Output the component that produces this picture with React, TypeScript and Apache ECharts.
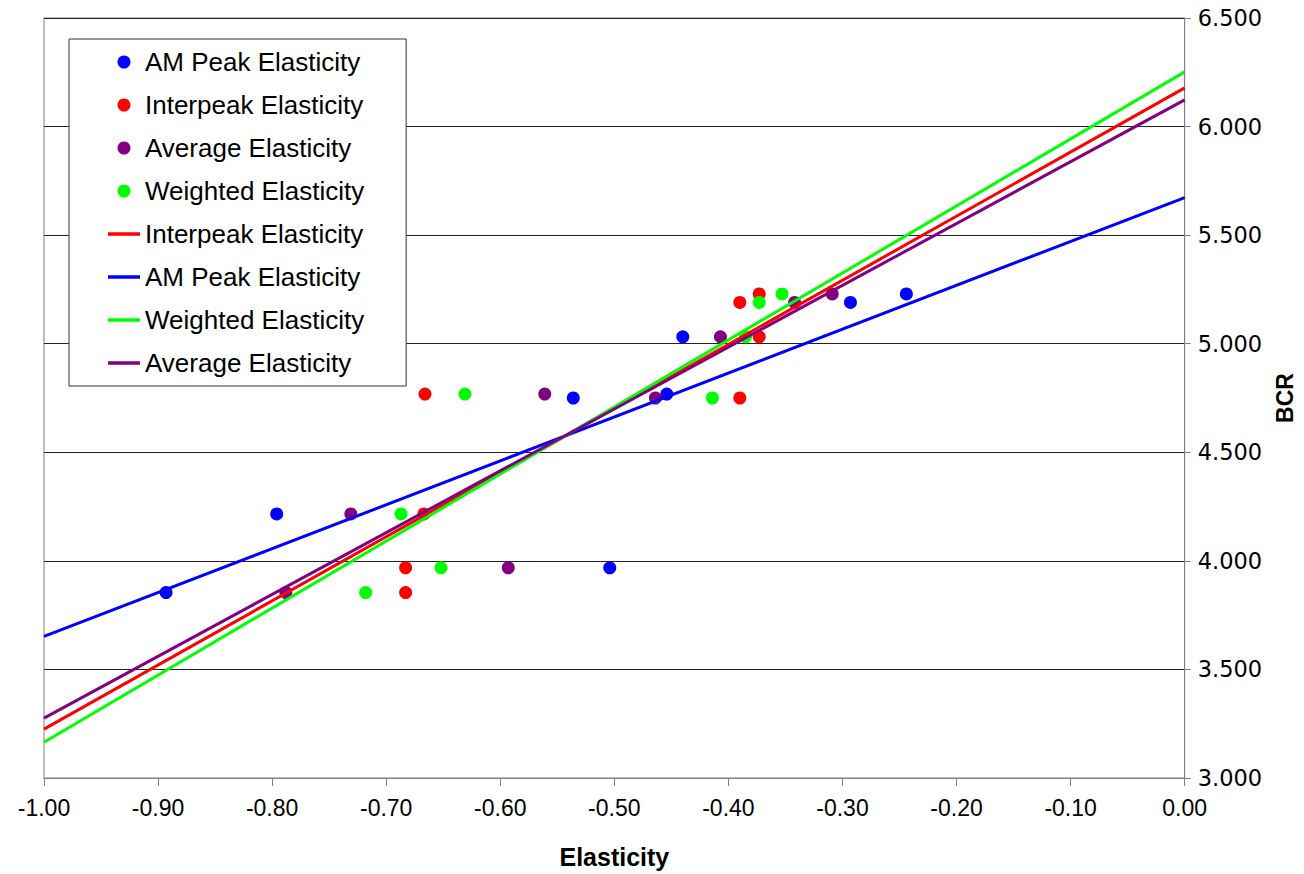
import React, { useEffect, useRef } from "react";
import * as echarts from "echarts";

const bcr = [3.854, 3.968, 4.216, 4.75, 4.768, 5.032, 5.19, 5.229];
const amPeak = [-0.893, -0.504, -0.796, -0.536, -0.454, -0.44, -0.293, -0.244];
const interpeak = [-0.683, -0.683, -0.667, -0.39, -0.666, -0.373, -0.39, -0.373];
const average = [-0.788, -0.593, -0.731, -0.464, -0.561, -0.407, -0.342, -0.309];
const weighted = [-0.718, -0.652, -0.687, -0.414, -0.631, -0.385, -0.373, -0.353];

const trendX = [-1, 0];
const trendAmPeak = [3.652, 5.673];
const trendInterpeak = [3.225, 6.178];
const trendWeighted = [3.165, 6.252];
const trendAverage = [3.276, 6.123];

const BLUE = "#0000FF";
const RED = "#FF0000";
const PURPLE = "#800080";
const GREEN = "#00FF00";

const LINE_ICON = "path://M0,0 L32,0 L32,3.5 L0,3.5 Z";

const pts = (xs: number[]) => xs.map((x, i) => [x, bcr[i]]);
const trend = (ys: number[]) => trendX.map((x, i) => [x, ys[i]]);

export default function App() {
  const ref = useRef<HTMLDivElement>(null);
  useEffect(() => {
    if (!ref.current) return;
    const chart = echarts.init(ref.current, null, { renderer: "svg" });
    const scatter = (name: string, xs: number[], color: string) => ({
      name,
      type: "scatter",
      data: pts(xs),
      symbol: "circle",
      symbolSize: 13,
      itemStyle: { color, opacity: 1 },
      z: 2,
    });
    const line = (name: string, ys: number[], color: string) => ({
      name: name + " ",
      type: "line",
      data: trend(ys),
      symbol: "none",
      showSymbol: false,
      lineStyle: { color, width: 3 },
      itemStyle: { color },
      z: 3,
    });
    chart.setOption({
      animation: false,
      backgroundColor: "#ffffff",
      grid: {
        left: 44,
        right: 119,
        top: 18,
        bottom: 94,
        show: true,
        borderColor: "#808080",
        borderWidth: 1,
      },
      legend: {
        orient: "vertical",
        left: 69,
        top: 39,
        padding: [10, 42, 10, 39],
        itemWidth: 32,
        itemHeight: 13,
        itemGap: 17,
        backgroundColor: "#ffffff",
        borderColor: "#333333",
        borderWidth: 1,
        borderRadius: 0,
        formatter: (n: string) => n.trim(),
        textStyle: {
          fontFamily: "Liberation Sans",
          fontSize: 26,
          lineHeight: 25,
          color: "#000",
        },
        data: [
          { name: "AM Peak Elasticity", icon: "circle" },
          { name: "Interpeak Elasticity", icon: "circle" },
          { name: "Average Elasticity", icon: "circle" },
          { name: "Weighted Elasticity", icon: "circle" },
          { name: "Interpeak Elasticity ", icon: LINE_ICON },
          { name: "AM Peak Elasticity ", icon: LINE_ICON },
          { name: "Weighted Elasticity ", icon: LINE_ICON },
          { name: "Average Elasticity ", icon: LINE_ICON },
        ],
      },
      xAxis: {
        type: "value",
        min: -1,
        max: 0,
        interval: 0.1,
        name: "Elasticity",
        nameLocation: "middle",
        nameGap: 66,
        nameTextStyle: {
          fontFamily: "Liberation Sans",
          fontWeight: "bold",
          fontSize: 25,
          color: "#000",
        },
        axisLine: { show: true, lineStyle: { color: "#808080", width: 1 } },
        axisTick: { show: true, length: 8, lineStyle: { color: "#808080" } },
        axisLabel: {
          margin: 18,
          fontFamily: "Liberation Sans",
          fontSize: 23,
          color: "#000",
          formatter: (v: number) => v.toFixed(2),
        },
        splitLine: { show: false },
      },
      yAxis: {
        type: "value",
        position: "right",
        min: 3,
        max: 6.5,
        interval: 0.5,
        name: "BCR",
        nameLocation: "middle",
        nameRotate: 90,
        nameGap: 82,
        nameTextStyle: {
          fontFamily: "Liberation Sans",
          fontWeight: "bold",
          fontSize: 23,
          color: "#000",
          padding: [0, 0, 8, 0],
        },
        axisLine: { show: true, lineStyle: { color: "#808080", width: 1 } },
        axisTick: { show: true, length: 6, lineStyle: { color: "#808080" } },
        axisLabel: {
          margin: 13,
          fontFamily: "DejaVu Sans",
          fontSize: 22.5,
          color: "#000",
          formatter: (v: number) => v.toFixed(3),
        },
        splitLine: { show: true, lineStyle: { color: "#222222", width: 1 } },
      },
      series: [
        scatter("AM Peak Elasticity", amPeak, BLUE),
        scatter("Interpeak Elasticity", interpeak, RED),
        scatter("Average Elasticity", average, PURPLE),
        scatter("Weighted Elasticity", weighted, GREEN),
        line("Interpeak Elasticity", trendInterpeak, RED),
        line("AM Peak Elasticity", trendAmPeak, BLUE),
        line("Weighted Elasticity", trendWeighted, GREEN),
        line("Average Elasticity", trendAverage, PURPLE),
      ],
    });
    return () => chart.dispose();
  }, []);
  return (
    <div
      ref={ref}
      style={{ position: "fixed", left: 0, top: 0, width: 1304, height: 874 }}
    />
  );
}
